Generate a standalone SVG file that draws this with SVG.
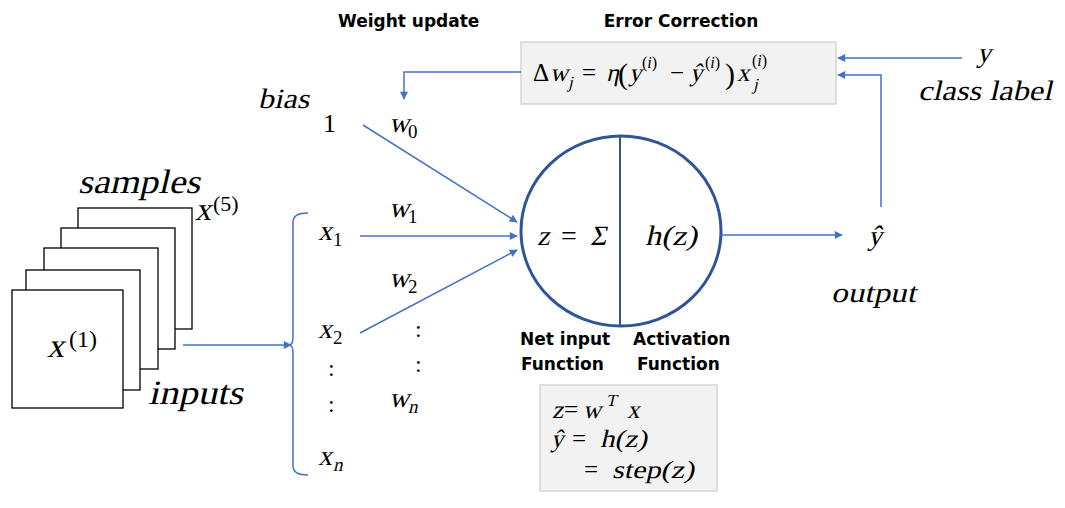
<svg xmlns="http://www.w3.org/2000/svg" width="1065" height="508" viewBox="0 0 1065 508">
<style>
.m{font-family:"Liberation Serif","Times New Roman",serif;font-style:normal;fill:#000}
.r{font-family:"Liberation Serif","Times New Roman",serif;font-style:normal;fill:#000}
.b{font-family:"DejaVu Sans","Liberation Sans",sans-serif;font-weight:bold;font-size:17px;fill:#000}
.c{stroke:#4472C4;stroke-width:1.5;fill:none}
.card{fill:#fff;stroke:#000;stroke-width:1.3}
.box{fill:#F2F2F2;stroke:#D6D6D6;stroke-width:1.5}
</style>
<defs>
<marker id="ah2" viewBox="0 0 10 10" refX="9" refY="5" markerWidth="10" markerHeight="8" markerUnits="userSpaceOnUse" orient="auto">
<path d="M0,0 L10,5 L0,10 z" fill="#4472C4"/>
</marker>
</defs>

<g id="samples">
<rect class="card" x="78" y="208" width="114" height="121"/>
<rect class="card" x="61" y="228" width="114" height="121"/>
<rect class="card" x="44" y="248" width="114" height="121"/>
<rect class="card" x="26" y="270" width="114" height="120"/>
<rect class="card" x="12" y="290" width="111" height="118"/>
<text class="m" transform="translate(78,193) skewX(-13)" font-size="34" textLength="122" lengthAdjust="spacingAndGlyphs">samples</text>
<text class="m" transform="translate(195,220) skewX(-13)" font-size="32">x</text>
<text class="r" x="213" y="211" font-size="22">(5)</text>
<text class="m" transform="translate(47,357) skewX(-13)" font-size="34">x</text>
<text class="r" x="69" y="347" font-size="24">(1)</text>
<text class="m" transform="translate(148,404) skewX(-13)" font-size="34" textLength="95" lengthAdjust="spacingAndGlyphs">inputs</text>
</g>

<g id="inputs">
<text class="m" transform="translate(258,108) skewX(-13)" font-size="28" textLength="51" lengthAdjust="spacingAndGlyphs">bias</text>
<text class="r" x="323" y="132" font-size="26">1</text>
<text class="m" transform="translate(318,240) skewX(-13)" font-size="28">x</text>
<text class="r" x="333" y="246" font-size="19">1</text>
<text class="m" transform="translate(318,338) skewX(-13)" font-size="28">x</text>
<text class="r" x="333" y="344" font-size="19">2</text>
<text class="r" x="328" y="376" font-size="24">:</text>
<text class="r" x="328" y="412" font-size="24">:</text>
<text class="m" transform="translate(318,465) skewX(-13)" font-size="28">x</text>
<text class="m" transform="translate(333,471) skewX(-13)" font-size="19">n</text>
</g>

<g id="weights">
<text class="m" transform="translate(389,132) skewX(-13)" font-size="28">w</text>
<text class="r" x="408" y="138" font-size="19">0</text>
<text class="m" transform="translate(389,217) skewX(-13)" font-size="28">w</text>
<text class="r" x="408" y="223" font-size="19">1</text>
<text class="m" transform="translate(389,287) skewX(-13)" font-size="28">w</text>
<text class="r" x="408" y="293" font-size="19">2</text>
<text class="r" x="415" y="337" font-size="24">:</text>
<text class="r" x="415" y="372" font-size="24">:</text>
<text class="m" transform="translate(389,407) skewX(-13)" font-size="28">w</text>
<text class="m" transform="translate(408,413) skewX(-13)" font-size="19">n</text>
</g>

<g id="neuron">
<ellipse cx="621" cy="231" rx="100" ry="95" fill="#fff" stroke="#2F5597" stroke-width="3"/>
<line x1="620" y1="136" x2="620" y2="326" stroke="#2F5597" stroke-width="2"/>
<text class="m" transform="translate(537,245) skewX(-13)" font-size="28">z</text>
<text class="r" x="561" y="245" font-size="28">=</text>
<text class="m" transform="translate(590,245) skewX(-13)" font-size="28">Σ</text>
<text class="m" transform="translate(645,245) skewX(-13)" font-size="28" textLength="52" lengthAdjust="spacingAndGlyphs">h(z)</text>
<text class="b" x="520" y="345">Net input</text>
<text class="b" x="521" y="370">Function</text>
<text class="b" x="633" y="345">Activation</text>
<text class="b" x="637" y="370">Function</text>
</g>

<g id="formula-box">
<rect class="box" x="540" y="385" width="177" height="106"/>
<text class="m" transform="translate(552,418) skewX(-13)" font-size="25">z</text>
<text class="r" x="564" y="418" font-size="25">=</text>
<text class="m" transform="translate(583,418) skewX(-13)" font-size="25">w</text>
<text class="m" transform="translate(606,406) skewX(-13)" font-size="17">T</text>
<text class="m" transform="translate(627,418) skewX(-13)" font-size="25">x</text>
<text class="m" transform="translate(551,447) skewX(-13)" font-size="25">ŷ</text>
<text class="r" x="572" y="447" font-size="25">=</text>
<text class="m" transform="translate(600,447) skewX(-13)" font-size="25" textLength="47" lengthAdjust="spacingAndGlyphs">h(z)</text>
<text class="r" x="584" y="478" font-size="25">=</text>
<text class="m" transform="translate(612,478) skewX(-13)" font-size="25" textLength="82" lengthAdjust="spacingAndGlyphs">step(z)</text>
</g>

<g id="error-correction">
<text class="b" x="338" y="27">Weight update</text>
<text class="b" x="681" y="27" text-anchor="middle">Error Correction</text>
<rect class="box" x="521" y="42" width="315" height="62"/>
<text class="r" x="533" y="81" font-size="25">Δ</text>
<text class="m" transform="translate(550,81) skewX(-13)" font-size="25">w</text>
<text class="m" transform="translate(568,88) skewX(-13)" font-size="17">j</text>
<text class="r" x="582" y="81" font-size="25">=</text>
<text class="m" transform="translate(606,81) skewX(-13)" font-size="25">η</text>
<text class="r" x="618" y="84" font-size="30">(</text>
<text class="m" transform="translate(629,81) skewX(-13)" font-size="25">y</text>
<text class="r" x="642" y="68" font-size="16">(<tspan font-style="italic">i</tspan>)</text>
<text class="r" x="670" y="81" font-size="25">−</text>
<text class="m" transform="translate(690,81) skewX(-13)" font-size="25">ŷ</text>
<text class="r" x="705" y="68" font-size="16">(<tspan font-style="italic">i</tspan>)</text>
<text class="r" x="725" y="84" font-size="30">)</text>
<text class="m" transform="translate(737,81) skewX(-13)" font-size="25">x</text>
<text class="m" transform="translate(753,90) skewX(-13)" font-size="17">j</text>
<text class="r" x="752" y="66" font-size="16">(<tspan font-style="italic">i</tspan>)</text>
</g>

<g id="label">
<text class="m" transform="translate(977,62) skewX(-13)" font-size="28">y</text>
<text class="m" transform="translate(918,100) skewX(-13)" font-size="28" textLength="134" lengthAdjust="spacingAndGlyphs">class label</text>
</g>

<g id="output">
<text class="m" transform="translate(868,245) skewX(-13)" font-size="28">ŷ</text>
<text class="m" transform="translate(831,302) skewX(-13)" font-size="28" textLength="85" lengthAdjust="spacingAndGlyphs">output</text>
</g>

<g id="connectors">
<line class="c" x1="183" y1="345" x2="291" y2="345" marker-end="url(#ah2)"/>
<path class="c" d="M308,213 Q293,213 293,222 L293,337 Q293,345 289,345 Q293,345 293,353 L293,466 Q293,475 308,475"/>
<line class="c" x1="363" y1="125" x2="517" y2="222" marker-end="url(#ah2)"/>
<line class="c" x1="360" y1="236" x2="517" y2="236" marker-end="url(#ah2)"/>
<line class="c" x1="360" y1="333" x2="517" y2="250" marker-end="url(#ah2)"/>
<line class="c" x1="721" y1="235" x2="842" y2="235" marker-end="url(#ah2)"/>
<polyline class="c" points="881,207 881,75 838,75" marker-end="url(#ah2)"/>
<line class="c" x1="962" y1="58" x2="838" y2="58" marker-end="url(#ah2)"/>
<polyline class="c" points="521,72 404,72 404,99" marker-end="url(#ah2)"/>
</g>
</svg>
